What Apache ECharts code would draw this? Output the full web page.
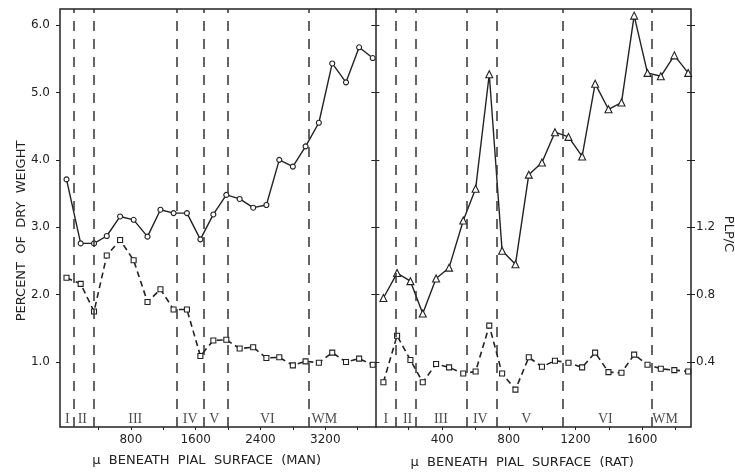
<!DOCTYPE html>
<html>
<head>
<meta charset="utf-8">
<script src="https://cdn.jsdelivr.net/npm/echarts@6/dist/echarts.min.js"></script>
<style>
  html, body { margin: 0; padding: 0; background: #ffffff; }
  #chart { width: 735px; height: 474px; }
</style>
</head>
<body>
<div id="chart"></div>
<script>
// Human cortex: depth beneath the pial surface (µm) and percent of dry weight
const manDepth  = [5, 180, 345, 502, 667, 834, 1005, 1165, 1327, 1492, 1658, 1818,
                   1978, 2143, 2310, 2473, 2632, 2800, 2957, 3121, 3286, 3456, 3618, 3786];
const manSolid  = [3.71, 2.76, 2.76, 2.87, 3.16, 3.11, 2.86, 3.26, 3.21, 3.21, 2.82, 3.19,
                   3.48, 3.42, 3.29, 3.33, 4.00, 3.90, 4.20, 4.55, 5.43, 5.15, 5.67, 5.51];
const manDashed = [2.25, 2.16, 1.75, 2.58, 2.81, 2.51, 1.89, 2.08, 1.78, 1.78, 1.09, 1.32,
                   1.33, 1.20, 1.22, 1.06, 1.07, 0.95, 1.01, 0.99, 1.14, 1.00, 1.05, 0.96];

// Rat cortex
const ratDepth  = [48, 130, 210, 284, 364, 442, 527, 601, 683, 760, 840, 920,
                   999, 1077, 1158, 1240, 1318, 1398, 1476, 1552, 1632, 1712, 1793, 1876];
const ratSolid  = [1.95, 2.32, 2.20, 1.72, 2.24, 2.40, 3.10, 3.57, 5.27, 2.65, 2.45, 3.78,
                   3.96, 4.41, 4.34, 4.05, 5.13, 4.75, 4.85, 6.14, 5.29, 5.24, 5.55, 5.29];
const ratDashed = [0.70, 1.39, 1.03, 0.70, 0.97, 0.92, 0.83, 0.86, 1.54, 0.83, 0.59, 1.07,
                   0.93, 1.02, 0.99, 0.92, 1.14, 0.85, 0.84, 1.11, 0.96, 0.90, 0.88, 0.86];

// Cortical layers: boundaries (µm) and where each layer's name sits
const layerNames  = ['I', 'II', 'III', 'IV', 'V', 'VI', 'WM'];
const manBounds   = [100, 340, 1370, 1700, 2000, 2990];
const manLayerPos = [15, 200, 854, 1533, 1830, 2484, 3188];
const ratBounds   = [125, 245, 550, 730, 1125, 1655];
const ratLayerPos = [63, 193, 393, 629, 905, 1379, 1738];
const layerLabelLevel = 0.15;

// Tick values
const percentTicks = [1, 2, 3, 4, 5, 6];
const plpLabels    = [0.4, 0.8, 1.2];
const plpTicks     = [0.4, 0.8, 1.2, 1.6, 2.0, 2.4];
const manLabels    = [800, 1600, 2400, 3200];
const manTicks     = [400, 800, 1200, 1600, 2000, 2400, 2800, 3200, 3600];
const ratLabels    = [400, 800, 1200, 1600];
const ratTicks     = [200, 400, 600, 800, 1000, 1200, 1400, 1600, 1800];

const INK = '#222';
const FONT = 'DejaVu Sans';

const pairs = (xs, ys) => xs.map((x, i) => [x, ys[i]]);
const layerPoints = (pos) => pos.map((x, i) => ({ name: layerNames[i], value: [x, layerLabelLevel] }));

// Frame geometry
const FL = 60, FT = 9, FW = 631, FH = 418;
const MAN_START = 6.1;          // offset of 0 µm from the frame's left edge
const SPLIT = 315.4;            // divider between the two panels

const yRange = { min: 0.036, max: 6.238 };

function hiddenY(grid) {
  return { type: 'value', gridIndex: grid, position: 'left', ...yRange, show: false,
           splitLine: { show: false } };
}

const solidLine = (symbol, size) => ({
  type: 'line', symbol, symbolSize: size, showAllSymbol: true,
  lineStyle: { color: INK, width: 1.4 },
  itemStyle: { color: '#fff', borderColor: INK, borderWidth: 1.1 },
  emphasis: { disabled: true }, z: 3
});
const dashedLine = () => ({
  type: 'line', symbol: 'rect', symbolSize: 5, showAllSymbol: true,
  lineStyle: { color: INK, width: 1.6, type: [6, 4] },
  itemStyle: { color: '#fff', borderColor: INK, borderWidth: 1.1 },
  emphasis: { disabled: true }, z: 3
});
const layerSeries = (xi, yi, pos, bounds) => ({
  type: 'scatter', xAxisIndex: xi, yAxisIndex: yi, symbolSize: 0,
  data: layerPoints(pos), silent: true,
  label: { show: true, position: 'inside', formatter: '{b}', color: INK,
           fontFamily: 'Liberation Serif', fontSize: 14 },
  markLine: {
    silent: true, symbol: ['none', 'none'], animation: false,
    label: { show: false },
    lineStyle: { color: '#333', width: 1.5, type: [10, 8] },
    data: bounds.map(b => ({ xAxis: b }))
  }
});

const plain = v => String(v);

const chart = echarts.init(document.getElementById('chart'), null, { renderer: 'canvas' });
chart.setOption({
  animation: false,
  backgroundColor: '#ffffff',
  grid: [
    { left: FL, top: FT, width: FW, height: FH, show: true, borderColor: INK, borderWidth: 1.5,
      backgroundColor: 'transparent', outerBoundsMode: 'none', containLabel: false },
    { left: FL + MAN_START, top: FT, width: SPLIT - MAN_START, height: FH,
      outerBoundsMode: 'none', containLabel: false },
    { left: FL + SPLIT, top: FT, width: FW - SPLIT, height: FH,
      outerBoundsMode: 'none', containLabel: false }
  ],
  xAxis: [
    { type: 'value', gridIndex: 0, min: 0, max: 1, show: false, splitLine: { show: false } },
    { type: 'value', gridIndex: 1, position: 'bottom', min: 0, max: 3819,
      axisLine: { show: false }, splitLine: { show: false },
      axisTick: { show: true, length: 3, lineStyle: { color: INK }, customValues: manTicks },
      axisLabel: { customValues: manLabels, margin: 7, color: INK, fontFamily: FONT, fontSize: 12,
                   formatter: plain },
      name: '\u00b5  BENEATH  PIAL  SURFACE  (MAN)', nameLocation: 'middle', nameGap: 27,
      nameTextStyle: { color: INK, fontFamily: FONT, fontSize: 13, padding: [0, 28, 0, 0] } },
    { type: 'value', gridIndex: 2, position: 'bottom', min: 0, max: 1893,
      axisLine: { show: false }, splitLine: { show: false },
      axisTick: { show: true, length: 3, lineStyle: { color: INK }, customValues: ratTicks },
      axisLabel: { customValues: ratLabels, margin: 7, color: INK, fontFamily: FONT, fontSize: 12,
                   formatter: plain },
      name: '\u00b5  BENEATH  PIAL  SURFACE  (RAT)', nameLocation: 'middle', nameGap: 29,
      nameTextStyle: { color: INK, fontFamily: FONT, fontSize: 13, padding: [0, 22, 0, 0] } }
  ],
  yAxis: [
    // 0: percent of dry weight, left edge of the frame
    { type: 'value', gridIndex: 0, position: 'left', ...yRange,
      axisLine: { show: false }, splitLine: { show: false },
      axisTick: { show: true, length: 4, lineStyle: { color: INK }, customValues: percentTicks },
      axisLabel: { customValues: percentTicks, margin: 10, color: INK, fontFamily: FONT, fontSize: 12,
                   formatter: v => v.toFixed(1) },
      name: 'PERCENT  OF  DRY  WEIGHT', nameLocation: 'middle', nameGap: 32, nameMoveOverlap: false,
      nameTextStyle: { color: INK, fontFamily: FONT, fontSize: 13, padding: [0, 26, 0, 0] } },
    // 1: PLP/C, right edge of the frame (outer ticks and labels)
    { type: 'value', gridIndex: 0, position: 'right', min: 0.0144, max: 2.495,
      axisLine: { show: false }, splitLine: { show: false },
      axisTick: { show: true, length: 4, lineStyle: { color: INK }, customValues: plpTicks },
      axisLabel: { customValues: plpLabels, margin: 5, color: INK, fontFamily: FONT, fontSize: 12,
                   formatter: v => v.toFixed(1) },
      name: 'PLP/C', nameLocation: 'middle', nameGap: 31, nameRotate: -90, nameMoveOverlap: false,
      nameTextStyle: { color: INK, fontFamily: FONT, fontSize: 13, padding: [0, 0, 0, 32] } },
    // 2: PLP/C inner ticks
    { type: 'value', gridIndex: 0, position: 'right', min: 0.0144, max: 2.495,
      axisLine: { show: false }, splitLine: { show: false }, axisLabel: { show: false },
      axisTick: { show: true, inside: true, length: 4, lineStyle: { color: INK }, customValues: plpTicks } },
    // 3: man panel value axis
    hiddenY(1),
    // 4: rat panel value axis, drawn as the divider
    { type: 'value', gridIndex: 2, position: 'left', ...yRange,
      axisLine: { show: true, lineStyle: { color: INK, width: 1.5 } }, splitLine: { show: false },
      axisLabel: { show: false },
      axisTick: { show: true, length: 4, lineStyle: { color: INK }, customValues: percentTicks } },
    // 5: divider inner ticks
    { type: 'value', gridIndex: 2, position: 'left', ...yRange,
      axisLine: { show: false }, splitLine: { show: false }, axisLabel: { show: false },
      axisTick: { show: true, inside: true, length: 4, lineStyle: { color: INK }, customValues: percentTicks } }
  ],
  series: [
    { ...solidLine('circle', 5), xAxisIndex: 1, yAxisIndex: 3, data: pairs(manDepth, manSolid) },
    { ...dashedLine(), xAxisIndex: 1, yAxisIndex: 3, data: pairs(manDepth, manDashed) },
    layerSeries(1, 3, manLayerPos, manBounds),
    { ...solidLine('triangle', 7), xAxisIndex: 2, yAxisIndex: 4, data: pairs(ratDepth, ratSolid) },
    { ...dashedLine(), xAxisIndex: 2, yAxisIndex: 4, data: pairs(ratDepth, ratDashed) },
    layerSeries(2, 4, ratLayerPos, ratBounds)
  ]
});
</script>
</body>
</html>
